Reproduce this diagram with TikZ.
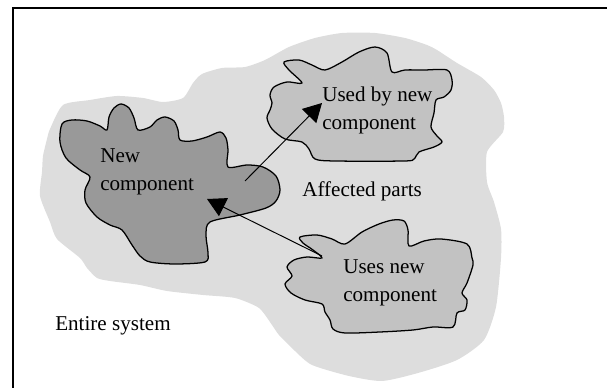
\documentclass[tikz,border=0pt]{standalone}
\usepackage{fontspec}
\setmainfont{Liberation Serif}
\usetikzlibrary{arrows.meta}
\definecolor{regiongray}{HTML}{DDDDDD}
\definecolor{newgray}{HTML}{999999}
\definecolor{partgray}{HTML}{C2C2C2}

\begin{document}
\begin{tikzpicture}[x=0.25mm,y=-0.25mm,>={Triangle[length=4.6mm,width=5mm]},font=\fontsize{15}{20}\selectfont]
\tikzstyle{lbl}=[inner sep=0pt,anchor=base west,align=left]
\tikzstyle{blob}=[draw,line width=0.9pt,line join=round]
\useasboundingbox (0,0) rectangle (607,388);
\clip (0,0) rectangle (607,388);
\draw[line width=1pt] (13,8) rectangle (640,420);
% affected parts
\fill[regiongray] plot[smooth cycle,tension=0.4] coordinates {(50,129) (63,105) (90,100) (117,96) (143,98) (163,102) (183,98) (193,83) (202,74) (222,68) (245,67) (265,60) (289,47) (315,38) (342,33) (375,33) (405,38) (427,45) (437,50) (457,63) (481,77) (494,90) (501,103) (504,117) (503,132) (487,152) (487,182) (494,202) (501,229) (501,258) (496,307) (484,340) (457,360) (418,373) (382,381) (349,376) (312,365) (295,351) (279,335) (272,325) (259,308) (235,298) (203,295) (167,291) (140,285) (110,281) (97,278) (87,268) (80,258) (57,239) (50,222) (40,196) (42,172) (43,156) (47,139)};
% new component
\path[blob,fill=newgray] plot[smooth cycle,tension=0.5] coordinates {(62,124) (72,120) (87,121) (100,126) (107,130) (109,117) (114,108) (121,104) (129,108) (134,118) (138,130) (150,127) (157,120) (165,117) (174,121) (178,130) (180,140) (192,141) (207,137) (220,132) (226,138) (228,150) (228,167) (247,165) (263,167) (276,176) (280,190) (276,201) (266,208) (240,215) (210,222) (206,235) (208,253) (205,262) (175,264) (150,262) (140,256) (132,245) (122,230) (110,225) (97,217) (86,203) (85,190) (90,177) (80,170) (66,158) (60,142)};
% used by / uses
\path[blob,fill=partgray] plot[smooth cycle,tension=0.5] coordinates {(284,62) (299,60) (312,65) (325,70) (342,62) (359,52) (375,47) (387,53) (392,72) (405,70) (424,70) (447,70) (452,80) (451,90) (444,97) (436,100) (434,113) (431,127) (437,136) (442,142) (434,147) (419,152) (414,159) (404,161) (335,161) (315,159) (309,149) (302,142) (285,139) (272,129) (267,118) (270,110) (272,103) (270,95) (274,87) (287,82) (302,83) (289,70)};
\path[blob,fill=partgray] plot[smooth cycle,tension=0.5] coordinates {(300,237) (317,235) (332,239) (345,244) (362,232) (379,224) (393,220) (404,221) (408,230) (409,246) (424,241) (441,239) (467,244) (472,258) (473,265) (467,283) (462,293) (467,300) (465,310) (457,313) (453,327) (433,327) (413,330) (380,332) (345,333) (333,329) (330,320) (325,312) (322,304) (305,300) (291,293) (285,284) (292,276) (287,267) (294,260) (307,257) (322,258) (313,250) (303,243)};
% labels, base is the last line
\node[lbl] (newlbl) at (100,191) {New\\component};
\node[lbl] (usedlbl) at (322,130) {Used by new\\component};
\node[lbl] (affected) at (302,197) {Affected parts};
\node[lbl] (useslbl) at (343,302) {Uses new\\component};
\node[lbl] (entire) at (55,331) {Entire system};
\coordinate (newout) at (245,181); \coordinate (usedin) at (322,103);
\coordinate (usesout) at (322,256); \coordinate (newin) at (207,199);
\draw[->,line width=0.7pt] (newout) -- (usedin);
\draw[->,line width=0.7pt] (usesout) -- (newin);
\end{tikzpicture}
\end{document}
